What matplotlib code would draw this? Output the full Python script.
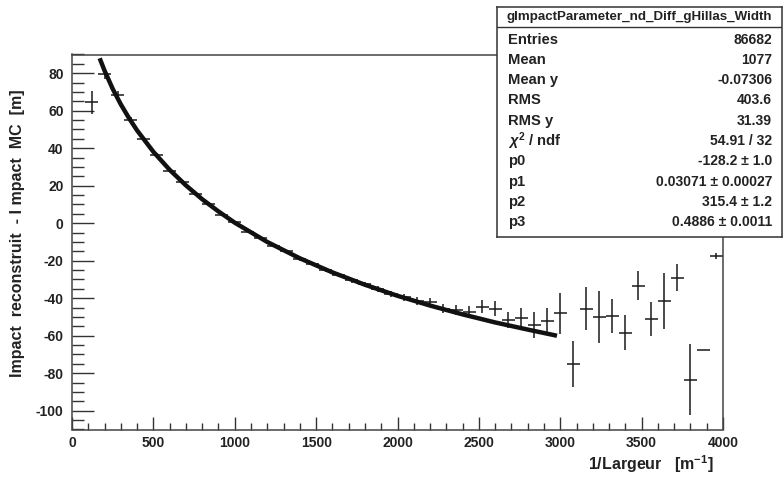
import numpy as np
import matplotlib
matplotlib.use('Agg')
import matplotlib.pyplot as plt
from matplotlib.ticker import MultipleLocator

plt.rcParams['font.family'] = ['Liberation Sans', 'DejaVu Sans']
plt.rcParams['font.weight'] = 'bold'
plt.rcParams['axes.unicode_minus'] = False
plt.rcParams['mathtext.fontset'] = 'custom'
plt.rcParams['mathtext.rm'] = 'Liberation Sans:bold'
plt.rcParams['mathtext.it'] = 'Liberation Sans:bold:italic'
plt.rcParams['mathtext.bf'] = 'Liberation Sans:bold'

# profile points (bin centres, mean, error on mean)
bin_x = [120, 200, 280, 360, 440, 520, 600, 680, 760, 840, 920, 1000,
         1080, 1160, 1240, 1320, 1400, 1480, 1560, 1640, 1720, 1800, 1880, 1960,
         2040, 2120, 2200, 2280, 2360, 2440, 2520, 2600, 2680, 2760, 2840, 2920,
         3000, 3080, 3160, 3240, 3320, 3400, 3480, 3560, 3640, 3720, 3800, 3880, 3960]
bin_y = [64.5, 79.5, 68.5, 55.0, 45.0, 36.5, 28.0, 22.0, 15.5, 10.5, 4.5, 0.5,
         -4.5, -8.0, -12.0, -15.0, -19.0, -21.5, -25.0, -27.5, -30.5, -32.5, -35.0, -37.5,
         -39.5, -41.5, -42.0, -45.5, -46.5, -47.5, -44.6, -45.5, -51.7, -50.8, -54.4, -52.0,
         -48.0, -75.2, -45.5, -50.0, -49.4, -58.3, -33.4, -51.2, -41.6, -29.0, -83.4, -67.7, -17.6]
bin_err = [6.2, 2.5, 1.8, 1.4, 1.2, 1.0, 0.9, 0.9, 0.8, 0.8, 0.8, 0.8,
           0.8, 0.8, 0.9, 0.9, 1.0, 1.0, 1.1, 1.2, 1.3, 1.4, 1.5, 1.6,
           1.8, 2.0, 2.2, 2.4, 2.7, 3.2, 3.4, 4.0, 4.2, 5.8, 7.0, 6.7,
           11.0, 12.3, 11.4, 13.8, 9.0, 9.5, 7.7, 9.0, 15.0, 7.3, 18.8, 0.0, 1.5]
bin_half = 40

# fitted curve
fit_x = [170, 200, 250, 300, 350, 400, 500, 600, 700, 800, 900, 1000,
         1200, 1400, 1600, 1800, 2000, 2200, 2400, 2600, 2800, 2980]
fit_y = [88.0, 81.4, 71.7, 63.4, 56.1, 49.5, 38.1, 28.5, 20.2, 12.8, 6.3, 0.3,
         -10.0, -18.7, -26.2, -32.8, -38.7, -43.9, -48.6, -52.9, -56.7, -60.0]

stat_names = ['Entries', 'Mean', 'Mean y', 'RMS', 'RMS y', r'$\chi^{2}$ / ndf',
              'p0', 'p1', 'p2', 'p3']
stat_values = ['86682', '1077', '-0.07306', '403.6', '31.39', '54.91 / 32',
               '-128.2 ± 1.0', '0.03071 ± 0.00027', '315.4 ± 1.2', '0.4886 ± 0.0011']
hist_name = 'gImpactParameter_nd_Diff_gHillas_Width'

W, H = 783, 480
fig = plt.figure(figsize=(W / 100, H / 100), dpi=100)
ax = fig.add_axes([72 / W, 1 - 429.5 / H, (723 - 72) / W, (429.5 - 54.5) / H])

ink = '#1a1a1a'
ax.errorbar(bin_x, bin_y, yerr=bin_err, xerr=bin_half, fmt='none',
            ecolor=ink, elinewidth=1.1, capsize=0)
ax.plot(fit_x, fit_y, color='#111111', lw=3.2, solid_capstyle='butt')

ax.set_xlim(0, 4000)
ax.set_ylim(-110, 90)
ax.xaxis.set_major_locator(MultipleLocator(500))
ax.xaxis.set_minor_locator(MultipleLocator(100))
ax.yaxis.set_major_locator(MultipleLocator(20))
ax.yaxis.set_minor_locator(MultipleLocator(5))
ax.tick_params(axis='both', which='both', direction='in', colors='#333333',
               width=1.0, labelsize=10, labelcolor='#222222')
ax.tick_params(axis='y', which='major', length=15.5, pad=6)
ax.tick_params(axis='y', which='minor', length=8.5)
ax.tick_params(axis='x', which='major', length=9.5, pad=5)
ax.tick_params(axis='x', which='minor', length=4.7)
for lab in ax.get_xticklabels() + ax.get_yticklabels():
    lab.set_fontweight('bold')
for sp in ax.spines.values():
    sp.set_color('#444444')
    sp.set_linewidth(1.1)

fig.text(18 / W, 1 - 233 / H, 'Impact  reconstruit  - I mpact  MC  [m]',
         rotation=90, ha='center', va='center', fontsize=11.5,
         fontweight='bold', color='#222222')
fig.text(714 / W, 1 - 464 / H, r'1/Largeur   [m$^{\mathbf{-1}}$]',
         ha='right', va='center', fontsize=11.5, fontweight='bold', color='#222222')

# stats box
bx0, bx1, by0, by1 = 497, 782, 7, 237
sb = fig.add_axes([bx0 / W, 1 - by1 / H, (bx1 - bx0) / W, (by1 - by0) / H])
sb.set_xlim(bx0, bx1)
sb.set_ylim(by1, by0)
sb.set_xticks([])
sb.set_yticks([])
for sp in sb.spines.values():
    sp.set_color('#333333')
    sp.set_linewidth(1.1)
sb.axhline(27, color='#333333', lw=1.0)
sb.text((bx0 + bx1) / 2, 17, hist_name, ha='center', va='center',
        fontsize=9.6, fontweight='bold', color='#222222')
for i, (n, v) in enumerate(zip(stat_names, stat_values)):
    yy = 39.5 + i * 20.3
    sb.text(508, yy, n, ha='left', va='center', fontsize=10.6,
            fontweight='bold', color='#222222')
    sb.text(772, yy, v, ha='right', va='center', fontsize=10,
            fontweight='bold', color='#222222')

fig.savefig('out.png', dpi=100)
